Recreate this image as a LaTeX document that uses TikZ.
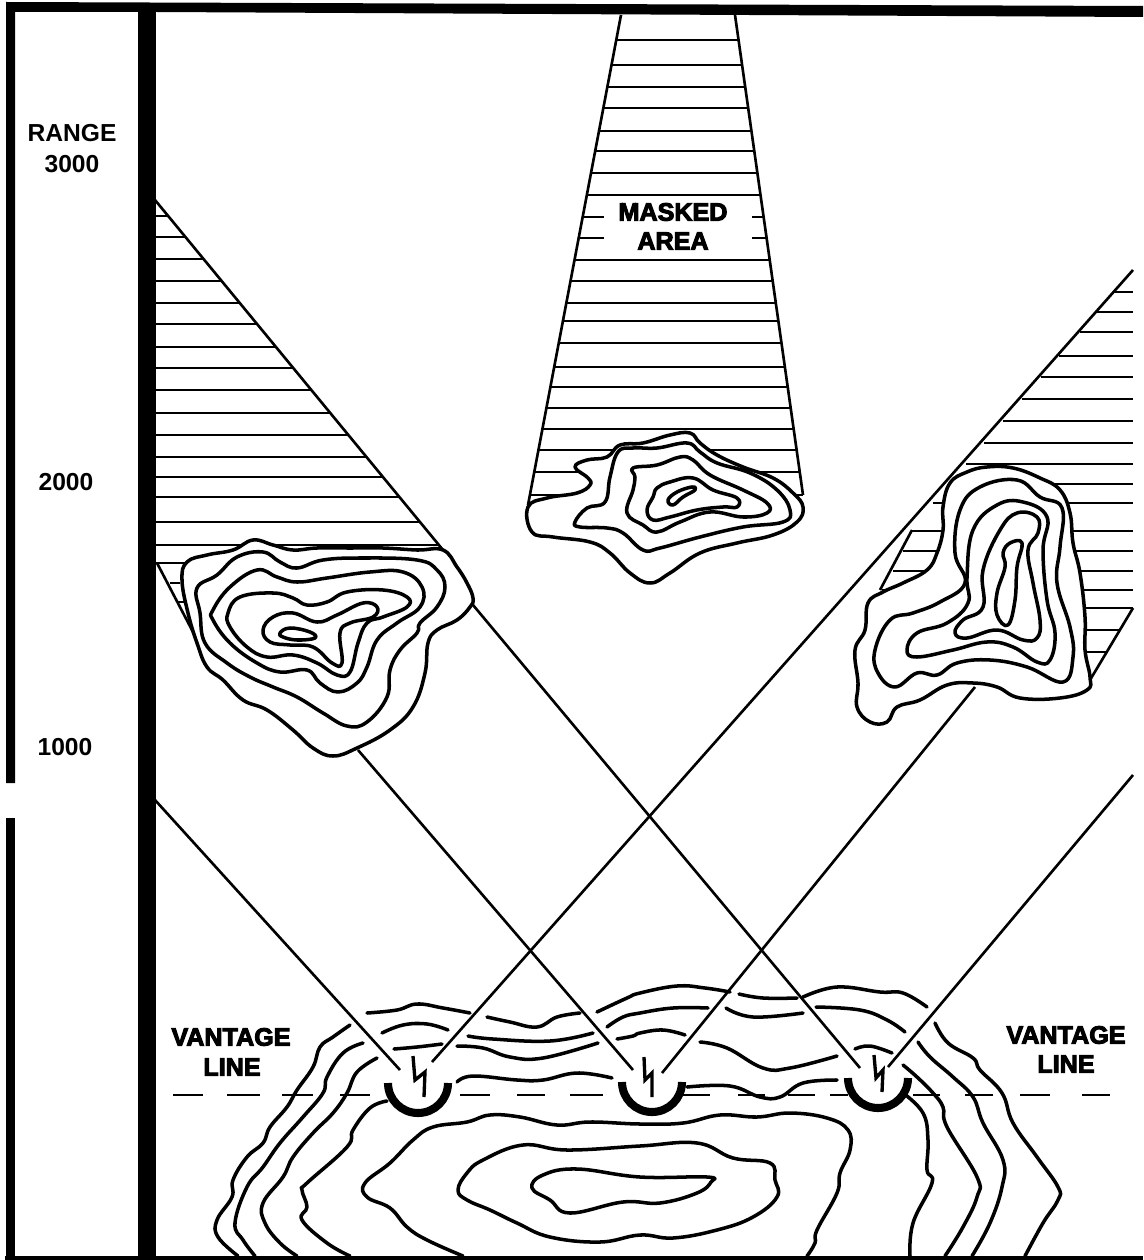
\documentclass[tikz,border=0pt]{standalone}
\usepackage{fontspec}
\setmainfont{Liberation Sans}
\newfontfamily\heavyfont{Liberation Sans}[BoldFeatures={FakeBold=4}]
\usetikzlibrary{calc,positioning}
\tikzset{
  hatchline/.style={line width=1.55pt},
  rayline/.style={line width=1.5pt},
  contourline/.style={line width=2pt,line join=round,line cap=round},
  hilltop/.style={contourline,fill=white},
  scalelabel/.style={font=\fontsize{14}{14}\selectfont\bfseries,inner sep=0pt},
  heavylabel/.style={font=\fontsize{14.3}{15}\selectfont\heavyfont\bfseries,inner sep=0pt},
  dishmark/.style={line width=4.6pt,line cap=butt},
  boltmark/.style={line width=1.9pt,line join=miter},
}
\begin{document}
\begin{tikzpicture}[x=.02cm,y=-.02cm]
  \useasboundingbox (0,0) rectangle (1143,1260);
  % frame
  \fill (6,2) -- (1143,6) -- (1143,17) -- (156,12) -- (15,12) -- (15,783) -- (6,783) -- cycle;
  \fill (6,818) rectangle (15,1257);
  \fill (138,10) rectangle (156,1257);
  \fill (5,1256) rectangle (1143,1260);
  \coordinate (radarA) at (418,1083);
  \coordinate (radarB) at (652,1082);
  \coordinate (radarC) at (878,1078);
  % masked areas
  \foreach \y in {216,237,259,281,303,324,347,368,390,413,435,457,477,497,522,545}
    \draw[hatchline] (155,\y) -- ({155+(\y-200)*.823},\y);
  \draw[hatchline] (155,563) -- (190,563);
  \foreach \xa/\xb/\y in {170/180/583,178/188/602,190/197/626}
    \draw[hatchline] (\xa,\y) -- (\xb,\y);
  \foreach \y in {40,65,87,108,131,151,173,195,260,281,303,321,343,367,387,408,429,450,472,495}
    \draw[hatchline] ({621-(\y-20)*.1918},\y) -- ({735+(\y-20)*.1432},\y);
  \foreach \xa/\xb/\y in {583/604/217,578/604/238,752/765/217,752/767/238}
    \draw[hatchline] (\xa,\y) -- (\xb,\y);
  \foreach \y in {292,312,332,356,377,399,421,443,464,484,503}
    \draw[hatchline] ({1133-(\y-270)*.859},\y) -- (1133,\y);
  \foreach \xa/\xb/\y in {912/1133/531,903/1133/551,893/1133/571,882/1133/590,1040/1133/608,1040/1120/630,1040/1108/652}
    \draw[hatchline] (\xa,\y) -- (\xb,\y);
  % edges of the masked areas
  \draw[rayline] (155,200) -- (443,550) -- (473,605);
  \draw[rayline] (157,563) -- (205,655);
  \draw[rayline] (621,15) -- (528,505);
  \draw[rayline] (735,15) -- (803,495);
  \draw[rayline] (880,590) -- (912,530);
  \draw[rayline] (1090,680) -- (1133,608);
  % sight lines
  \draw[rayline] (155,800) -- ($(radarA)+(-18,-13)$);
  \draw[rayline] (1133,270) -- ($(radarA)+(14,-21)$);
  \draw[rayline] (358,750) -- ($(radarB)+(-19,-12)$);
  \draw[rayline] (975,687) -- ($(radarB)+(10,-9)$);
  \draw[rayline] (473,605) -- ($(radarC)+(-18,-10)$);
  \draw[rayline] (1133,775) -- ($(radarC)+(10,-11)$);
  % left hill
  \draw[hilltop] plot[smooth cycle,tension=.7] coordinates {(187,562) (207,555) (233,550) (253,540) (273,545) (293,550) (317,548) (350,548) (383,548) (417,550) (443,550) (457,567) (467,583) (473,598) (470,607) (457,620) (437,630) (428,643) (425,673) (413,707) (390,730) (357,748) (333,756) (313,748) (293,730) (267,710) (243,700) (223,680) (207,667) (197,643) (188,613) (182,580)};
  \draw[contourline] plot[smooth cycle,tension=.7] coordinates {(197,588) (217,575) (237,557) (263,552) (280,562) (297,568) (323,560) (363,558) (417,560) (437,570) (445,587) (437,607) (420,623) (417,633) (400,650) (390,670) (387,697) (367,722) (347,726) (323,713) (297,697) (273,687) (250,677) (227,663) (205,643) (200,613)};
  \draw[contourline] plot[smooth cycle,tension=.7] coordinates {(213,610) (230,587) (257,570) (277,577) (297,582) (327,578) (370,572) (403,572) (422,587) (420,607) (397,623) (377,640) (367,667) (357,683) (338,692) (320,683) (307,670) (280,672) (257,663) (230,643) (213,620)};
  \draw[contourline] plot[smooth cycle,tension=.7] coordinates {(228,613) (240,597) (273,593) (293,598) (307,605) (327,602) (347,592) (383,590) (407,597) (407,607) (383,617) (367,623) (358,643) (350,672) (337,675) (317,663) (293,655) (267,657) (247,647) (230,627)};
  \draw[contourline] plot[smooth cycle,tension=.7] coordinates {(263,630) (273,617) (293,613) (317,622) (337,615) (363,603) (377,607) (373,617) (350,623) (340,633) (342,663) (332,663) (313,647) (290,645) (270,642)};
  \draw[contourline] plot[smooth cycle,tension=.7] coordinates {(280,633) (290,628) (310,632) (315,638) (297,640) (283,637)};
  % middle hill
  \draw[hilltop] plot[smooth cycle,tension=.7] coordinates {(528,507) (547,498) (577,493) (590,485) (588,478) (575,467) (587,460) (607,457) (620,445) (643,443) (670,435) (690,433) (700,443) (717,455) (743,467) (773,478) (793,493) (803,507) (797,522) (773,535) (737,543) (700,553) (670,573) (650,583) (630,573) (610,553) (590,542) (553,537) (532,532)};
  \draw[contourline] plot[smooth cycle,tension=.7] coordinates {(575,522) (587,508) (605,502) (610,477) (618,452) (633,448) (657,448) (687,443) (700,452) (717,463) (750,473) (777,490) (790,510) (783,522) (743,527) (700,537) (660,548) (643,550) (623,533) (607,528) (580,527)};
  \draw[contourline] plot[smooth cycle,tension=.7] coordinates {(633,468) (657,465) (680,457) (693,460) (710,475) (743,490) (767,503) (767,513) (743,517) (710,512) (680,522) (657,532) (643,525) (627,513) (633,490) (635,477)};
  \draw[contourline] plot[smooth cycle,tension=.7] coordinates {(657,488) (670,482) (693,478) (713,490) (737,498) (737,507) (723,507) (697,510) (670,517) (653,520) (647,510) (653,497)};
  \draw[contourline] plot[smooth cycle,tension=.7] coordinates {(668,500) (677,492) (692,487) (695,490) (683,497) (673,505)};
  % right hill
  \draw[hilltop] plot[smooth cycle,tension=.7] coordinates {(950,483) (967,472) (987,467) (1013,468) (1040,478) (1060,490) (1070,513) (1073,543) (1080,573) (1085,617) (1085,650) (1090,677) (1087,690) (1060,698) (1020,698) (997,687) (973,683) (947,685) (920,700) (897,707) (887,722) (870,722) (857,707) (858,683) (855,650) (865,630) (868,603) (883,592) (903,583) (927,570) (937,553) (943,530) (943,507)};
  \draw[contourline] plot[smooth cycle,tension=.7] coordinates {(875,650) (890,620) (913,613) (940,602) (965,583) (955,553) (960,510) (980,487) (1017,480) (1040,497) (1062,508) (1060,547) (1057,583) (1070,627) (1073,657) (1063,682) (1027,667) (990,660) (957,663) (937,675) (917,673) (895,687) (878,673)};
  \draw[contourline] plot[smooth cycle,tension=.7] coordinates {(907,650) (917,633) (947,623) (968,603) (967,577) (973,530) (997,505) (1023,502) (1047,517) (1043,550) (1047,600) (1055,633) (1050,660) (1037,662) (1013,647) (987,642) (953,650) (917,657)};
  \draw[contourline] plot[smooth cycle,tension=.7] coordinates {(955,633) (963,620) (983,607) (983,570) (1000,530) (1017,513) (1037,517) (1038,533) (1028,550) (1033,583) (1040,620) (1037,638) (1023,640) (997,630) (967,638)};
  \draw[contourline] plot[smooth cycle,tension=.7] coordinates {(1003,553) (1010,543) (1022,543) (1017,567) (1015,600) (1008,625) (997,615) (997,593) (1005,567)};
  % hill under the vantage line
  \foreach \pts in {
    {(350,1025) (333,1037) (320,1047) (313,1067) (297,1090) (287,1107) (270,1127) (263,1143) (247,1157) (233,1180) (232,1197) (217,1220) (218,1237) (238,1256)},
    {(363,1043) (343,1053) (327,1077) (323,1093) (303,1117) (280,1143) (263,1167) (247,1187) (235,1223) (243,1240) (255,1256)},
    {(377,1058) (357,1072) (347,1093) (333,1113) (313,1133) (293,1157) (283,1177) (263,1203) (265,1223) (280,1243) (297,1256)},
    {(387,1101) (370,1108) (353,1130) (347,1147) (307,1183) (302,1190) (307,1207) (302,1220) (327,1243) (350,1256)},
    {(463,1256) (427,1240) (407,1227) (390,1208) (367,1197) (365,1183) (390,1163) (413,1140) (433,1127) (467,1122) (490,1115) (520,1117) (557,1125) (590,1122) (640,1124) (683,1123) (720,1115) (757,1117) (790,1113) (827,1118) (848,1130) (850,1150) (840,1173) (837,1193) (817,1230) (815,1243) (807,1256)},
    {(903,1093) (923,1113) (928,1140) (927,1170) (932,1183) (913,1223) (910,1256)},
    {(903,1065) (917,1077) (933,1093) (943,1107) (947,1127) (977,1177) (977,1197) (963,1227) (945,1256)},
    {(918,1042) (930,1057) (953,1077) (973,1097) (983,1123) (1003,1160) (1002,1187) (990,1223) (972,1256)},
    {(935,1023) (948,1043) (973,1058) (980,1070) (1002,1093) (1013,1123) (1037,1157) (1058,1187) (1058,1200) (1043,1223) (1025,1256)},
    {(367,1013) (397,1010) (417,1004) (443,1008) (470,1013)},
    {(382,1033) (403,1025) (427,1024) (448,1030)},
    {(394,1049) (417,1047) (442,1044)},
    {(487,1017) (510,1022) (537,1027) (557,1017) (580,1013)},
    {(468,1036) (493,1039) (550,1041) (593,1033)},
    {(457,1046) (483,1048) (510,1057) (543,1058) (598,1043)},
    {(457,1082) (473,1076) (517,1080) (543,1080) (577,1073) (612,1078)},
    {(597,1012) (627,998) (640,993) (677,986) (705,988) (730,992)},
    {(607,1027) (623,1017) (640,1013) (673,1008) (708,1008)},
    {(617,1039) (633,1036) (640,1033) (663,1030) (685,1035)},
    {(739,994) (763,998) (797,998)},
    {(803,997) (837,987) (880,992) (903,993) (927,1007)},
    {(726,1008) (753,1017) (803,1013)},
    {(816,1007) (860,1010) (887,1020) (905,1032)},
    {(700,1042) (727,1048) (763,1068) (790,1068) (837,1056)},
    {(855,1049) (870,1046) (892,1053)},
    {(687,1087) (730,1086) (760,1097) (780,1097) (803,1083) (837,1080)}}
    \draw[contourline] plot[smooth,tension=.7] coordinates \pts;
  \foreach \pts in {
    {(458,1190) (467,1173) (483,1160) (523,1145) (567,1150) (640,1146) (697,1143) (733,1158) (770,1163) (775,1180) (777,1197) (753,1217) (717,1230) (673,1238) (640,1235) (600,1242) (550,1237) (517,1223) (490,1210) (467,1200)},
    {(532,1188) (543,1175) (577,1169) (640,1177) (707,1177) (711,1182) (697,1193) (660,1203) (623,1202) (570,1213) (550,1200)}}
    \draw[contourline] plot[smooth cycle,tension=.7] coordinates \pts;
  % vantage line
  \foreach \xa/\xb in {173/203,227/260,282/313,340/370,460/490,517/545,570/603,680/710,738/765,788/815,830/848,913/940,965/993,1020/1050,1082/1110}
    \draw[hatchline] (\xa,1095) -- (\xb,1095);
  % radars
  \foreach \r in {radarA,radarB,radarC}
    \draw[dishmark] ($(\r)+(-30,0)$) arc[start angle=180,end angle=0,radius=30];
  \draw[boltmark] ($(radarA)+(-5,-27)$) -- ++(2,24) -- ++(10,-8) -- ++(-1,25);
  \draw[boltmark] ($(radarB)+(-8,-25)$) -- ++(1,23) -- ++(7,-7) -- ++(0,24);
  \draw[boltmark] ($(radarC)+(-4,-23)$) -- ++(2,23) -- ++(7,-8) -- ++(-1,22);
  % labels
  \node[scalelabel] (rangeLab) at (72,133) {RANGE};
  \node[scalelabel] (farLab) at (72,164) {3000};
  \node[scalelabel] (midLab) at (66,482) {2000};
  \node[scalelabel] (nearLab) at (65,747) {1000};
  \node[heavylabel] (maskedLab) at (673,212) {MASKED};
  \node[heavylabel] (areaLab) at (673,241) {AREA};
  \node[heavylabel] (vantageL) at (231,1037) {VANTAGE};
  \node[heavylabel] (lineL) at (232,1067) {LINE};
  \node[heavylabel] (vantageR) at (1066,1035) {VANTAGE};
  \node[heavylabel] (lineR) at (1066,1064) {LINE};
\end{tikzpicture}
\end{document}
